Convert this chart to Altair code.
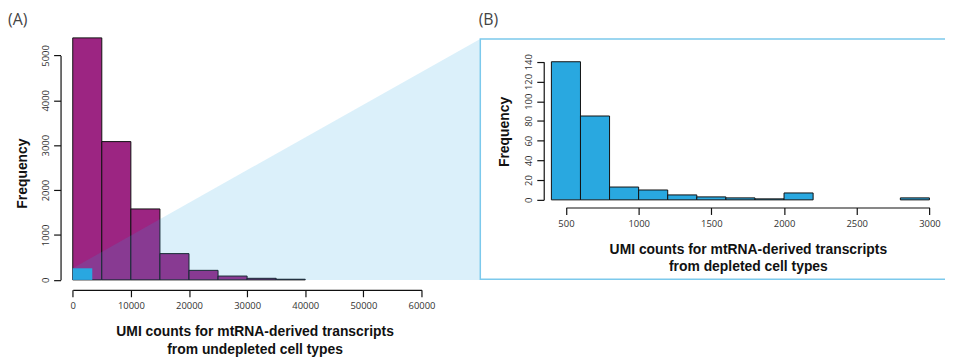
import altair as alt
import pandas as pd

# ---------------- data ----------------
# Panel A: UMI counts from undepleted cell types
a_bin_start = [0, 5000, 10000, 15000, 20000, 25000, 30000, 35000]
a_bin_end = [5000, 10000, 15000, 20000, 25000, 30000, 35000, 40000]
a_counts = [5390, 3080, 1580, 585, 212, 85, 35, 14]
a_x_ticks = [0, 10000, 20000, 30000, 40000, 50000, 60000]
a_y_ticks = [0, 1000, 2000, 3000, 4000, 5000]

# range of the depleted cell types, highlighted inside panel A
a_sub_start = [0]
a_sub_end = [3360]
a_sub_count = [258]

# zoom wedge (panel A units)
wedge_x = [0, 70100]
wedge_y = [258, 5367]

# Panel B: UMI counts from depleted cell types
b_bin_start = [400, 600, 800, 1000, 1200, 1400, 1600, 1800, 2000, 2800]
b_bin_end = [600, 800, 1000, 1200, 1400, 1600, 1800, 2000, 2200, 3000]
b_counts = [140, 85, 13, 10, 5, 3, 2, 1, 7, 2]
b_x_ticks = [500, 1000, 1500, 2000, 2500, 3000]
b_y_ticks = [0, 20, 40, 60, 80, 100, 120, 140]

# zoom box (panel B units)
box_x = [-89, 3300]
box_y = [-80.4, 163.1]

panel_labels = ["(A)", "(B)"]
x_title_a = ["UMI counts for mtRNA-derived transcripts", "from undepleted cell types"]
x_title_b = ["UMI counts for mtRNA-derived transcripts", "from depleted cell types"]

# ---------------- styling / layout ----------------
W, H = 945, 351
PURPLE = "#9C2582"
BLUE = "#29A8E0"
WEDGE = "#2AA7E0"
BOX = "#7CC9EC"

A_X = alt.Scale(domain=[0, 60000], range=[65.3, 417.0], nice=False, zero=False)
A_Y = alt.Scale(domain=[0, 5000], range=[272.7, 46.3], nice=False, zero=False)
B_X = alt.Scale(domain=[500, 3000], range=[562.7, 929.3], nice=False, zero=False)
B_Y = alt.Scale(domain=[0, 140], range=[192.0, 52.7], nice=False, zero=False)

common_axis = dict(
    grid=False, tickSize=7, domainColor="#111", domainWidth=1.2,
    tickColor="#111", tickWidth=1.2, labelFont="Open Sans", labelFontSize=9.5,
    labelColor="#333", labelFlush=False, labelOverlap=False, labelBound=False,
    titleFont="Liberation Sans", titleFontWeight="bold", titleFontSize=14,
    titleColor="#111", titleAngle=0,
)

def x_axis(values, title, offset, title_x, line_h):
    return alt.Axis(values=values, format="d", orient="bottom", offset=offset,
                    title=title, labelPadding=4, titleX=title_x, titleY=46.5,
                    titleAlign="center", titleBaseline="alphabetic",
                    titleLineHeight=line_h, **common_axis)

def y_axis(values, offset, title_x, title_y):
    d = dict(common_axis)
    d["titleAngle"] = 270
    return alt.Axis(values=values, format="d", orient="left", offset=offset,
                    title="Frequency", labelAngle=270, labelAlign="center",
                    labelBaseline="alphabetic", labelPadding=5,
                    titleX=title_x, titleY=title_y, titleAlign="center",
                    titleBaseline="middle", **d)

AX_A_X = x_axis(a_x_ticks, x_title_a, 282.7 - H, 248.7, 18)
AX_A_Y = y_axis(a_y_ticks, -53, -38.5, 165)
AX_B_X = x_axis(b_x_ticks, x_title_b, 199.7 - H, 746.2, 17)
AX_B_Y = y_axis(b_y_ticks, -540.3, -39.3, 123)

def ax(field, scale, axis):
    return alt.X(field, type="quantitative", scale=scale, axis=axis)

def ay(field, scale, axis):
    return alt.Y(field, type="quantitative", scale=scale, axis=axis)

# ---------------- tables ----------------
df_a = pd.DataFrame({"start": a_bin_start, "end": a_bin_end, "count": a_counts, "base": 0})
df_sub = pd.DataFrame({"start": a_sub_start, "end": a_sub_end, "count": a_sub_count, "base": 0})
df_wedge = pd.DataFrame({"start": wedge_x, "count": wedge_y, "base": 0})
df_b = pd.DataFrame({"start": b_bin_start, "end": b_bin_end, "count": b_counts, "base": 0})
df_box = pd.DataFrame({"start": [box_x[0]], "end": [box_x[1]], "count": [box_y[1]], "base": [box_y[0]]})
df_lab_a = pd.DataFrame({"t": [panel_labels[0]]})
df_lab_b = pd.DataFrame({"t": [panel_labels[1]]})

# ---------------- panel A ----------------
bars_a = alt.Chart(df_a).mark_rect(fill=PURPLE, stroke="#111", strokeWidth=1).encode(
    x=ax("start", A_X, AX_A_X), x2="end",
    y=ay("count", A_Y, AX_A_Y), y2="base",
)
sub_a = alt.Chart(df_sub).mark_rect(fill=BLUE, strokeWidth=0).encode(
    x=ax("start", A_X, AX_A_X), x2="end",
    y=ay("count", A_Y, AX_A_Y), y2="base",
)
wedge = alt.Chart(df_wedge).mark_area(color=WEDGE, opacity=0.17).encode(
    x=ax("start", A_X, AX_A_X),
    y=ay("count", A_Y, AX_A_Y), y2="base",
)
lab_a = alt.Chart(df_lab_a).mark_text(
    font="Open Sans", fontSize=16, color="#444", align="left", baseline="alphabetic"
).encode(x=alt.value(0), y=alt.value(16), text="t:N")

layer_a = alt.layer(bars_a, sub_a, wedge, lab_a)

# ---------------- panel B ----------------
box_b = alt.Chart(df_box).mark_rect(fillOpacity=0, stroke=BOX, strokeWidth=1.5).encode(
    x=ax("start", B_X, AX_B_X), x2="end",
    y=ay("count", B_Y, AX_B_Y), y2="base",
)
bars_b = alt.Chart(df_b).mark_rect(fill=BLUE, stroke="#111", strokeWidth=1).encode(
    x=ax("start", B_X, AX_B_X), x2="end",
    y=ay("count", B_Y, AX_B_Y), y2="base",
)
lab_b = alt.Chart(df_lab_b).mark_text(
    font="Open Sans", fontSize=16, color="#444", align="left", baseline="alphabetic"
).encode(x=alt.value(474.7), y=alt.value(16), text="t:N")

layer_b = alt.layer(box_b, bars_b, lab_b)

chart = alt.layer(layer_a, layer_b).resolve_scale(
    x="independent", y="independent"
).properties(
    width=W, height=H, padding=0,
    autosize=alt.AutoSizeParams(type="none"),
    background="white",
).configure_view(strokeWidth=0)

chart.save("out.html", embed_options={"renderer": "svg", "actions": False})
